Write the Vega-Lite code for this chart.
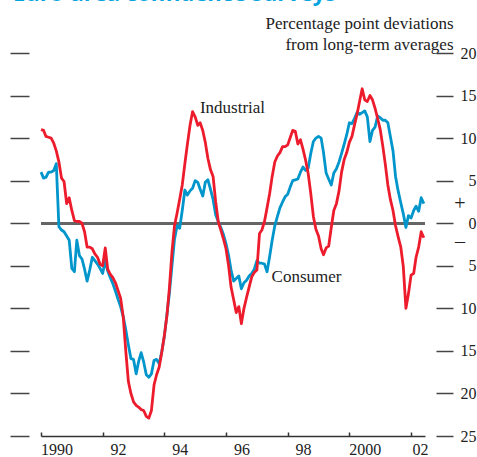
{
  "$schema": "https://vega.github.io/schema/vega-lite/v6.json",
  "width": 384,
  "height": 383,
  "autosize": {"type": "none"},
  "padding": {"left": 41, "top": 53, "right": 52, "bottom": 21},
  "background": "white",
  "config": {"view": {"stroke": null}},
  "title": {
    "text": "Euro-area confidence surveys",
    "anchor": "start",
    "frame": "group",
    "orient": "top",
    "baseline": "alphabetic",
    "offset": -9,
    "dx": -28,
    "font": "Open Sans",
    "fontSize": 22,
    "fontWeight": "bold",
    "color": "#00a3dd"
  },
  "data": {
    "values": [
      {"date": "1990-01-01", "con": 6.0, "ind": 11.0},
      {"date": "1990-02-01", "con": 5.3, "ind": 10.9},
      {"date": "1990-03-01", "con": 5.4, "ind": 10.2},
      {"date": "1990-04-01", "con": 6.0, "ind": 10.1},
      {"date": "1990-05-01", "con": 6.0, "ind": 10.0},
      {"date": "1990-06-01", "con": 6.2, "ind": 9.4},
      {"date": "1990-07-01", "con": 7.0, "ind": 8.5},
      {"date": "1990-08-01", "con": -0.4, "ind": 7.2},
      {"date": "1990-09-01", "con": -0.8, "ind": 5.3},
      {"date": "1990-10-01", "con": -1.0, "ind": 4.9},
      {"date": "1990-11-01", "con": -1.5, "ind": 2.3},
      {"date": "1990-12-01", "con": -2.0, "ind": 3.0},
      {"date": "1991-01-01", "con": -5.3, "ind": 1.5},
      {"date": "1991-02-01", "con": -5.7, "ind": 0.3},
      {"date": "1991-03-01", "con": -2.0, "ind": 0.2},
      {"date": "1991-04-01", "con": -3.8, "ind": 0.2},
      {"date": "1991-05-01", "con": -4.2, "ind": 0.0},
      {"date": "1991-06-01", "con": -5.4, "ind": -1.0},
      {"date": "1991-07-01", "con": -6.8, "ind": -2.8},
      {"date": "1991-08-01", "con": -5.5, "ind": -2.8},
      {"date": "1991-09-01", "con": -4.0, "ind": -3.0},
      {"date": "1991-10-01", "con": -4.4, "ind": -3.6},
      {"date": "1991-11-01", "con": -4.8, "ind": -4.0},
      {"date": "1991-12-01", "con": -5.3, "ind": -4.8},
      {"date": "1992-01-01", "con": -5.9, "ind": -5.0},
      {"date": "1992-02-01", "con": -4.4, "ind": -2.9},
      {"date": "1992-03-01", "con": -5.6, "ind": -5.4},
      {"date": "1992-04-01", "con": -6.4, "ind": -6.0},
      {"date": "1992-05-01", "con": -7.1, "ind": -6.4},
      {"date": "1992-06-01", "con": -8.0, "ind": -7.0},
      {"date": "1992-07-01", "con": -8.9, "ind": -7.9},
      {"date": "1992-08-01", "con": -9.8, "ind": -8.8},
      {"date": "1992-09-01", "con": -11.0, "ind": -11.0},
      {"date": "1992-10-01", "con": -12.5, "ind": -15.0},
      {"date": "1992-11-01", "con": -14.3, "ind": -18.6},
      {"date": "1992-12-01", "con": -15.9, "ind": -20.0},
      {"date": "1993-01-01", "con": -16.0, "ind": -21.0},
      {"date": "1993-02-01", "con": -17.7, "ind": -21.4},
      {"date": "1993-03-01", "con": -16.3, "ind": -21.6},
      {"date": "1993-04-01", "con": -15.2, "ind": -21.9},
      {"date": "1993-05-01", "con": -16.3, "ind": -22.0},
      {"date": "1993-06-01", "con": -17.8, "ind": -22.7},
      {"date": "1993-07-01", "con": -18.1, "ind": -22.9},
      {"date": "1993-08-01", "con": -17.7, "ind": -22.0},
      {"date": "1993-09-01", "con": -16.1, "ind": -19.0},
      {"date": "1993-10-01", "con": -16.0, "ind": -17.8},
      {"date": "1993-11-01", "con": -16.5, "ind": -16.9},
      {"date": "1993-12-01", "con": -15.1, "ind": -15.2},
      {"date": "1994-01-01", "con": -13.3, "ind": -13.2},
      {"date": "1994-02-01", "con": -10.7, "ind": -10.8},
      {"date": "1994-03-01", "con": -8.3, "ind": -7.7},
      {"date": "1994-04-01", "con": -5.0, "ind": -3.4},
      {"date": "1994-05-01", "con": -1.9, "ind": -0.3},
      {"date": "1994-06-01", "con": -0.3, "ind": 1.2},
      {"date": "1994-07-01", "con": -0.6, "ind": 2.8},
      {"date": "1994-08-01", "con": 1.5, "ind": 4.5},
      {"date": "1994-09-01", "con": 3.9, "ind": 7.0},
      {"date": "1994-10-01", "con": 3.3, "ind": 9.3},
      {"date": "1994-11-01", "con": 3.8, "ind": 11.5},
      {"date": "1994-12-01", "con": 4.1, "ind": 13.1},
      {"date": "1995-01-01", "con": 5.0, "ind": 12.5},
      {"date": "1995-02-01", "con": 4.8, "ind": 11.5},
      {"date": "1995-03-01", "con": 4.0, "ind": 11.8},
      {"date": "1995-04-01", "con": 3.2, "ind": 10.9},
      {"date": "1995-05-01", "con": 4.8, "ind": 9.5},
      {"date": "1995-06-01", "con": 5.1, "ind": 7.6},
      {"date": "1995-07-01", "con": 4.0, "ind": 6.3},
      {"date": "1995-08-01", "con": 2.8, "ind": 5.5},
      {"date": "1995-09-01", "con": 1.0, "ind": 2.5},
      {"date": "1995-10-01", "con": 0.2, "ind": 0.2},
      {"date": "1995-11-01", "con": -0.5, "ind": -0.8},
      {"date": "1995-12-01", "con": -1.3, "ind": -1.8},
      {"date": "1996-01-01", "con": -2.4, "ind": -3.0},
      {"date": "1996-02-01", "con": -3.8, "ind": -5.0},
      {"date": "1996-03-01", "con": -5.5, "ind": -7.5},
      {"date": "1996-04-01", "con": -6.8, "ind": -9.0},
      {"date": "1996-05-01", "con": -6.5, "ind": -10.5},
      {"date": "1996-06-01", "con": -6.2, "ind": -9.8},
      {"date": "1996-07-01", "con": -7.7, "ind": -11.8},
      {"date": "1996-08-01", "con": -7.0, "ind": -10.0},
      {"date": "1996-09-01", "con": -6.7, "ind": -8.7},
      {"date": "1996-10-01", "con": -6.2, "ind": -7.5},
      {"date": "1996-11-01", "con": -5.9, "ind": -6.3},
      {"date": "1996-12-01", "con": -5.4, "ind": -5.8},
      {"date": "1997-01-01", "con": -4.4, "ind": -5.5},
      {"date": "1997-02-01", "con": -4.7, "ind": -1.2},
      {"date": "1997-03-01", "con": -4.7, "ind": -0.8},
      {"date": "1997-04-01", "con": -4.8, "ind": 0.2},
      {"date": "1997-05-01", "con": -5.7, "ind": 1.8},
      {"date": "1997-06-01", "con": -3.9, "ind": 3.5},
      {"date": "1997-07-01", "con": -2.0, "ind": 5.5},
      {"date": "1997-08-01", "con": -0.3, "ind": 7.2},
      {"date": "1997-09-01", "con": 0.8, "ind": 7.9},
      {"date": "1997-10-01", "con": 1.8, "ind": 8.3},
      {"date": "1997-11-01", "con": 2.5, "ind": 9.0},
      {"date": "1997-12-01", "con": 3.1, "ind": 9.0},
      {"date": "1998-01-01", "con": 3.4, "ind": 9.2},
      {"date": "1998-02-01", "con": 4.3, "ind": 10.1},
      {"date": "1998-03-01", "con": 5.0, "ind": 10.9},
      {"date": "1998-04-01", "con": 5.1, "ind": 10.8},
      {"date": "1998-05-01", "con": 5.2, "ind": 9.3},
      {"date": "1998-06-01", "con": 6.0, "ind": 9.8},
      {"date": "1998-07-01", "con": 6.6, "ind": 8.7},
      {"date": "1998-08-01", "con": 6.2, "ind": 7.4},
      {"date": "1998-09-01", "con": 6.5, "ind": 5.8},
      {"date": "1998-10-01", "con": 8.2, "ind": 3.5},
      {"date": "1998-11-01", "con": 9.6, "ind": 0.8},
      {"date": "1998-12-01", "con": 10.0, "ind": -0.7},
      {"date": "1999-01-01", "con": 10.2, "ind": -1.5},
      {"date": "1999-02-01", "con": 10.0, "ind": -3.0},
      {"date": "1999-03-01", "con": 8.3, "ind": -3.7},
      {"date": "1999-04-01", "con": 5.9, "ind": -2.9},
      {"date": "1999-05-01", "con": 5.2, "ind": -2.7},
      {"date": "1999-06-01", "con": 4.5, "ind": -0.5},
      {"date": "1999-07-01", "con": 5.9, "ind": 1.5},
      {"date": "1999-08-01", "con": 6.4, "ind": 2.3},
      {"date": "1999-09-01", "con": 7.2, "ind": 3.8},
      {"date": "1999-10-01", "con": 8.2, "ind": 6.0},
      {"date": "1999-11-01", "con": 9.3, "ind": 7.5},
      {"date": "1999-12-01", "con": 10.4, "ind": 8.3},
      {"date": "2000-01-01", "con": 11.8, "ind": 9.5},
      {"date": "2000-02-01", "con": 11.7, "ind": 10.2},
      {"date": "2000-03-01", "con": 12.3, "ind": 11.5},
      {"date": "2000-04-01", "con": 13.0, "ind": 12.8},
      {"date": "2000-05-01", "con": 12.8, "ind": 14.3},
      {"date": "2000-06-01", "con": 13.0, "ind": 15.8},
      {"date": "2000-07-01", "con": 13.2, "ind": 14.5},
      {"date": "2000-08-01", "con": 12.5, "ind": 14.3},
      {"date": "2000-09-01", "con": 9.6, "ind": 15.0},
      {"date": "2000-10-01", "con": 10.9, "ind": 14.5},
      {"date": "2000-11-01", "con": 11.3, "ind": 13.5},
      {"date": "2000-12-01", "con": 12.6, "ind": 12.3},
      {"date": "2001-01-01", "con": 12.4, "ind": 11.0},
      {"date": "2001-02-01", "con": 12.1, "ind": 9.0},
      {"date": "2001-03-01", "con": 12.1, "ind": 7.0},
      {"date": "2001-04-01", "con": 11.8, "ind": 4.5},
      {"date": "2001-05-01", "con": 10.2, "ind": 2.8},
      {"date": "2001-06-01", "con": 8.5, "ind": 1.5},
      {"date": "2001-07-01", "con": 5.5, "ind": -0.3},
      {"date": "2001-08-01", "con": 3.8, "ind": -1.6},
      {"date": "2001-09-01", "con": 2.4, "ind": -2.8},
      {"date": "2001-10-01", "con": 1.1, "ind": -5.1},
      {"date": "2001-11-01", "con": -0.5, "ind": -10.0},
      {"date": "2001-12-01", "con": 0.9, "ind": -8.3},
      {"date": "2002-01-01", "con": 0.6, "ind": -6.1},
      {"date": "2002-02-01", "con": 1.5, "ind": -5.9},
      {"date": "2002-03-01", "con": 2.0, "ind": -4.0},
      {"date": "2002-04-01", "con": 1.4, "ind": -2.8},
      {"date": "2002-05-01", "con": 3.0, "ind": -1.0},
      {"date": "2002-06-01", "con": 2.3, "ind": -1.7}
    ]
  },
  "layer": [
    {
      "mark": {"type": "rule", "color": "#666666", "strokeWidth": 2},
      "encoding": {
        "y": {
          "datum": 0,
          "type": "quantitative",
          "scale": {"domain": [-25, 20], "nice": false, "zero": false},
          "axis": {
            "orient": "left",
            "offset": 12,
            "tickSize": 19,
            "tickWidth": 1.5,
            "tickColor": "#444444",
            "labels": false,
            "domain": false,
            "grid": false,
            "title": null,
            "values": [-25, -20, -15, -10, -5, 0, 5, 10, 15, 20]
          }
        }
      }
    },
    {
      "mark": {"type": "line", "color": "#0096cb", "strokeWidth": 2.8, "strokeJoin": "round"},
      "encoding": {
        "x": {
          "field": "date",
          "type": "temporal",
          "scale": {"type": "utc", "domain": [{"year": 1990, "month": 1, "date": 1, "utc": true}, {"year": 2002, "month": 6, "date": 15, "utc": true}]},
          "axis": {
            "orient": "bottom",
            "title": null,
            "grid": false,
            "domainColor": "#333333",
            "domainWidth": 1.5,
            "tickColor": "#333333",
            "tickWidth": 1.5,
            "tickSize": -4,
            "labelPadding": 9,
            "labelFont": "Liberation Serif",
            "labelFontSize": 16,
            "labelColor": "#222222",
            "labelFlush": false,
            "labelOverlap": false,
            "labelBound": false,
            "labelOffset": {"condition": {"test": "utcyear(datum.value) == 2002", "value": 9}, "value": 15.4},
            "values": [
              {"year": 1990, "month": 1, "date": 1, "utc": true},
              {"year": 1991, "month": 1, "date": 1, "utc": true},
              {"year": 1992, "month": 1, "date": 1, "utc": true},
              {"year": 1993, "month": 1, "date": 1, "utc": true},
              {"year": 1994, "month": 1, "date": 1, "utc": true},
              {"year": 1995, "month": 1, "date": 1, "utc": true},
              {"year": 1996, "month": 1, "date": 1, "utc": true},
              {"year": 1997, "month": 1, "date": 1, "utc": true},
              {"year": 1998, "month": 1, "date": 1, "utc": true},
              {"year": 1999, "month": 1, "date": 1, "utc": true},
              {"year": 2000, "month": 1, "date": 1, "utc": true},
              {"year": 2001, "month": 1, "date": 1, "utc": true},
              {"year": 2002, "month": 1, "date": 1, "utc": true}
            ],
            "labelExpr": "(utcyear(datum.value) % 2 != 0) ? '' : (utcyear(datum.value) % 10 == 0 ? utcFormat(datum.value, '%Y') : utcFormat(datum.value, '%y'))"
          }
        },
        "y": {
          "field": "con",
          "type": "quantitative",
          "scale": {"domain": [-25, 20], "nice": false, "zero": false},
          "axis": {
            "orient": "right",
            "offset": 11,
            "tickSize": 17,
            "tickWidth": 1.5,
            "tickColor": "#444444",
            "domain": false,
            "grid": false,
            "values": [-25, -20, -15, -10, -5, 0, 5, 10, 15, 20],
            "labelExpr": "'' + abs(datum.value)",
            "labelFont": "Liberation Serif",
            "labelFontSize": 16,
            "labelColor": "#222222",
            "labelAlign": "right",
            "labelBaseline": "middle",
            "labelPadding": 23,
            "labelFlush": false,
            "labelOverlap": false,
            "title": ["Percentage point deviations", "from long-term averages"],
            "titleAngle": 0,
            "titleAlign": "right",
            "titleBaseline": "alphabetic",
            "titleX": 17,
            "titleY": -25,
            "titleFont": "Liberation Serif",
            "titleFontSize": 17,
            "titleFontWeight": "normal",
            "titleColor": "#222222",
            "titleLineHeight": 21
          }
        }
      }
    },
    {
      "mark": {"type": "line", "color": "#ec1c2c", "strokeWidth": 2.8, "strokeJoin": "round"},
      "encoding": {
        "x": {"field": "date", "type": "temporal"},
        "y": {"field": "ind", "type": "quantitative", "axis": null}
      }
    },
    {
      "data": {
        "values": [
          {"label": "Industrial", "date": "1995-02-26", "value": 13.0},
          {"label": "Consumer", "date": "1997-06-24", "value": -6.87}
        ]
      },
      "mark": {"type": "text", "align": "left", "baseline": "alphabetic", "font": "Liberation Serif", "fontSize": 17, "color": "#222222"},
      "encoding": {
        "x": {"field": "date", "type": "temporal"},
        "y": {"field": "value", "type": "quantitative", "axis": null},
        "text": {"field": "label"}
      }
    },
    {
      "data": {
        "values": [
          {"sign": "+", "value": 2.2},
          {"sign": "–", "value": -2.2}
        ]
      },
      "mark": {"type": "text", "align": "center", "baseline": "middle", "dx": 35, "font": "Liberation Serif", "fontSize": 20, "color": "#222222"},
      "encoding": {
        "x": {"datum": {"year": 2002, "month": 6, "date": 15, "utc": true}, "type": "temporal"},
        "y": {"field": "value", "type": "quantitative", "axis": null},
        "text": {"field": "sign"}
      }
    }
  ],
  "resolve": {"axis": {"y": "independent"}}
}
